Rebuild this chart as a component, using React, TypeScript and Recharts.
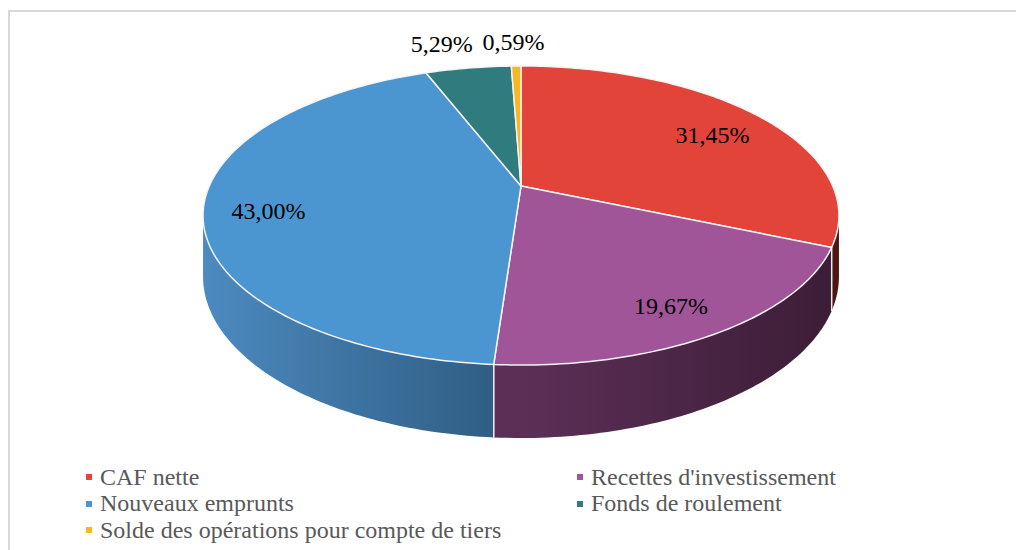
import { PieChart, Pie, Legend } from "recharts";

const names = [
  "CAF nette",
  "Recettes d'investissement",
  "Nouveaux emprunts",
  "Fonds de roulement",
  "Solde des opérations pour compte de tiers",
];
const values = [31.45, 19.67, 43.0, 5.29, 0.59];
const colors = ["#E2443A", "#A05599", "#4B96D0", "#2F7B7E", "#F6B81E"];
const sideColors = [
  ["#6A201D", "#4E1613"],
  ["#5C2F57", "#3B1D36"],
  ["#4C8AC0", "#2D5A7E"],
  ["#235E60", "#1A4748"],
  ["#B8891A", "#8C6812"],
];

const data = names.map((name, i) => ({ name, value: values[i], fill: colors[i] }));

// fake perspective for the tilted disc
const K = 0.1973;
const D_RATIO = 0.461;
const DEPTH = 58.6;
const VIS_FROM = 101.4;
const VIS_TO = 258.6;
const serif = '"Liberation Serif", "Times New Roman", "DejaVu Serif", serif';

function project(cx: number, cy: number, r: number, deg: number, f: number, dz: number) {
  const t = (deg * Math.PI) / 180;
  const u = f * Math.sin(t);
  const v = -f * Math.cos(t);
  const s = 1 / (1 - K * v);
  return [cx + r * u * s, cy + r * D_RATIO * v * s + dz * s];
}

function arcPoints(cx: number, cy: number, r: number, a: number, b: number, dz: number) {
  const pts: number[][] = [];
  const n = Math.max(2, Math.ceil(Math.abs(b - a)));
  for (let i = 0; i <= n; i++) pts.push(project(cx, cy, r, a + ((b - a) * i) / n, 1, dz));
  return pts;
}

const toPath = (pts: number[][]) => pts.map((p, i) => `${i ? "L" : "M"}${p[0].toFixed(2)},${p[1].toFixed(2)}`).join("");

function angles(props: any) {
  const a = 90 - props.startAngle;
  const b = 90 - props.endAngle;
  return [Math.min(a, b), Math.max(a, b)];
}

function TopShape(props: any) {
  const { cx, cy, outerRadius, fill } = props;
  const [a, b] = angles(props);
  const pts = [[cx, cy], ...arcPoints(cx, cy, outerRadius, a, b, 0)];
  return <path d={toPath(pts) + "Z"} fill={fill} stroke="#f4f4f4" strokeWidth={1.5} strokeLinejoin="round" />;
}

function SideShape(props: any) {
  const { cx, cy, outerRadius, index } = props;
  const [a0, b0] = angles(props);
  const a = Math.max(a0, VIS_FROM);
  const b = Math.min(b0, VIS_TO);
  if (a >= b) return <g />;
  const top = arcPoints(cx, cy, outerRadius, a, b, 0);
  const bottom = arcPoints(cx, cy, outerRadius, a, b, DEPTH).reverse();
  const id = `side-grad-${index}`;
  const [c1, c2] = sideColors[index] || ["#333", "#222"];
  const x1 = index === 2 ? cx - outerRadius * 1.02 : cx;
  const x2 = index === 2 ? cx : cx + outerRadius * 1.02;
  const edges: any[] = [];
  [a0, b0].forEach((ang, k) => {
    if (ang > VIS_FROM && ang < VIS_TO) {
      const p = project(cx, cy, outerRadius, ang, 1, 0);
      const q = project(cx, cy, outerRadius, ang, 1, DEPTH);
      edges.push(<line key={k} x1={p[0]} y1={p[1]} x2={q[0]} y2={q[1]} stroke="#ececec" strokeWidth={1.3} />);
    }
  });
  return (
    <g>
      <defs>
        <linearGradient id={id} gradientUnits="userSpaceOnUse" x1={x1} y1={0} x2={x2} y2={0}>
          <stop offset="0%" stopColor={c1} />
          <stop offset="100%" stopColor={c2} />
        </linearGradient>
      </defs>
      <path d={toPath([...top, ...bottom]) + "Z"} fill={`url(#${id})`} />
      {edges}
    </g>
  );
}

function renderLabel(props: any) {
  const { cx, cy, midAngle, outerRadius, index } = props;
  const v = values[index];
  const text = v.toFixed(2).replace(".", ",") + "%";
  const deg = 90 - midAngle;
  if (v >= 10) {
    const [x, y] = project(cx, cy, outerRadius, deg, 0.8, 0);
    return (
      <text x={x} y={y + 7} textAnchor="middle" dominantBaseline="central" fontFamily={serif} fontSize={24} fill="#000">
        {text}
      </text>
    );
  }
  const [x, y] = project(cx, cy, outerRadius, deg, 1.2, 0);
  const small = v < 1;
  return (
    <text
      x={small ? x - 33 : x + 13}
      y={y - 5}
      textAnchor={small ? "start" : "end"}
      dominantBaseline="central"
      fontFamily={serif}
      fontSize={24}
      fill="#000"
    >
      {text}
    </text>
  );
}

function LegendContent(props: any) {
  const seen = new Set<string>();
  const items = (props.payload || [])
    .filter((e: any) => e.type !== "none" && names.includes(e.value))
    .filter((e: any) => (seen.has(e.value) ? false : (seen.add(e.value), true)))
    .sort((p: any, q: any) => names.indexOf(p.value) - names.indexOf(q.value));
  return (
    <div style={{ display: "grid", gridTemplateColumns: "491px 1fr", fontFamily: serif }}>
      {items.map((e: any, i: number) => (
        <div key={i} style={{ display: "flex", alignItems: "center", height: 26.5 }}>
          <span style={{ width: 6, height: 6, background: colors[names.indexOf(e.value)], marginRight: 8, flex: "none" }} />
          <span style={{ fontSize: 24, color: "#595959", whiteSpace: "nowrap", fontFamily: serif }}>{e.value}</span>
        </div>
      ))}
    </div>
  );
}

export default function App() {
  return (
    <div style={{ position: "relative", width: 1016, height: 542, overflow: "hidden" }}>
      <div
        style={{
          position: "absolute",
          left: 0,
          top: 2,
          width: 1100,
          height: 700,
          borderTop: "2px solid #d9d9d9",
          borderLeft: "2px solid #d9d9d9",
        }}
      />
      <div style={{ position: "absolute", left: 0, top: 0 }}>
        <PieChart width={1016} height={542}>
          <Pie
            data={data}
            dataKey="value"
            nameKey="name"
            cx={508}
            cy={173}
            outerRadius={311.7}
            startAngle={90}
            endAngle={-270}
            legendType="none"
            isAnimationActive={false}
            shape={SideShape}
            activeShape={SideShape}
            inactiveShape={SideShape}
          />
          <Pie
            data={data}
            dataKey="value"
            nameKey="name"
            cx={508}
            cy={173}
            outerRadius={311.7}
            startAngle={90}
            endAngle={-270}
            isAnimationActive={false}
            shape={TopShape}
            activeShape={TopShape}
            inactiveShape={TopShape}
            label={renderLabel}
            labelLine={false}
          />
          <Legend
            content={LegendContent}
            wrapperStyle={{ position: "absolute", left: 78, top: 456, width: 920, bottom: "auto" }}
          />
        </PieChart>
      </div>
    </div>
  );
}
